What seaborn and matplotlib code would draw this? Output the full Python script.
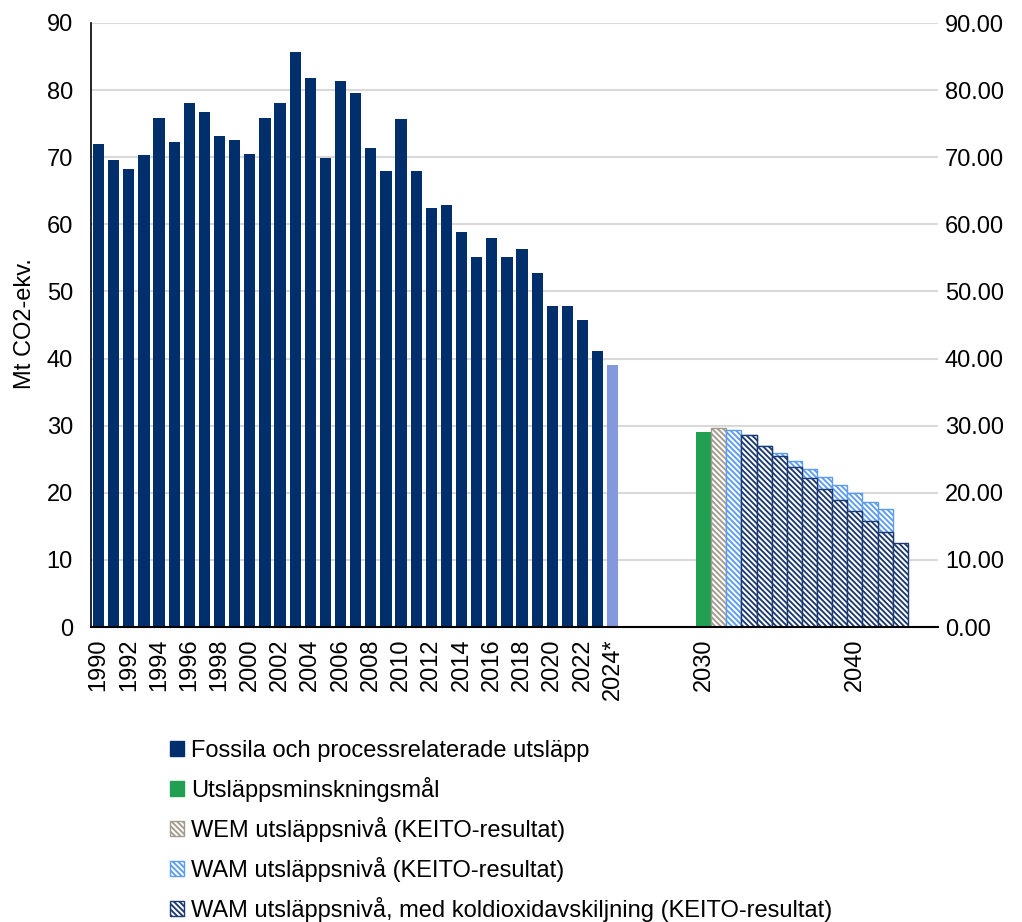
import matplotlib
matplotlib.use("Agg")
import matplotlib.pyplot as plt
import seaborn as sns
import pandas as pd
from matplotlib.patches import Patch
from matplotlib.ticker import FormatStrFormatter

# Category axis: historic years, the preliminary 2024 value and the projection horizon
years = [str(y) for y in range(1990, 2024)] + ["2024*"] + [str(y) for y in range(2025, 2046)]

hist_years = [str(y) for y in range(1990, 2024)]
hist_values = [71.9, 69.6, 68.2, 70.4, 75.9, 72.3, 78.1, 76.8, 73.1, 72.5,
               70.5, 75.9, 78.1, 85.7, 81.8, 69.9, 81.3, 79.6, 71.4, 67.9,
               75.7, 68.0, 62.4, 62.9, 58.8, 55.2, 58.0, 55.2, 56.3, 52.8,
               47.9, 47.9, 45.8, 41.2]
prelim_years = ["2024*"]
prelim_values = [39.0]

target_years = ["2030"]
target_values = [29.0]

wem_years = ["2031"]
wem_values = [29.7]

wam_years = [str(y) for y in range(2032, 2043)]
wam_values = [29.3, 28.6, 27.0, 25.9, 24.7, 23.5, 22.3, 21.1, 19.9, 18.7, 17.6]

ccs_years = [str(y) for y in range(2033, 2044)]
ccs_values = [28.6, 27.0, 25.5, 23.9, 22.2, 20.5, 18.9, 17.3, 15.8, 14.1, 12.5]

tick_labels = [str(y) for y in range(1990, 2024, 2)] + ["2024*", "2030", "2040"]

series_labels = [
    "Fossila och processrelaterade utsläpp",
    "Utsläppsminskningsmål",
    "WEM utsläppsnivå (KEITO-resultat)",
    "WAM utsläppsnivå (KEITO-resultat)",
    "WAM utsläppsnivå, med koldioxidavskiljning (KEITO-resultat)",
]

NAVY = "#002F6B"
LIGHT = "#8399DB"
GREEN = "#22A052"
TAN = "#A39A8E"
SKY = "#5A9CF2"
HATCH_NAVY = "#1C3A70"
GRID = "#D9D9D9"
HATCH = "\\\\\\\\\\\\"
FS = 17

sns.set_theme(style="white")
plt.rcParams["font.family"] = ["Liberation Sans", "DejaVu Sans"]
plt.rcParams["text.color"] = "black"
plt.rcParams["hatch.linewidth"] = 1.35

fig = plt.figure(figsize=(10.22, 9.22), dpi=100)
ax = fig.add_axes([91 / 1022, 1 - 627 / 922, 847 / 1022, 604 / 922])


def bars(cats, vals, color, width, hatch=None):
    n0 = len(ax.patches)
    sns.barplot(x=cats, y=vals, order=years, color=color, width=width,
                saturation=1, errorbar=None, ax=ax, zorder=3)
    new = ax.patches[n0:]
    for p in new:
        if hatch:
            p.set_facecolor("white")
            p.set_edgecolor(color)
            p.set_hatch(hatch)
            p.set_linewidth(1.0)
        else:
            p.set_linewidth(0)
    return new


bars(hist_years, hist_values, NAVY, 0.74)
bars(prelim_years, prelim_values, LIGHT, 0.74)
bars(target_years, target_values, GREEN, 1.0)
bars(wem_years, wem_values, TAN, 1.0, hatch=HATCH)
bars(wam_years, wam_values, SKY, 1.0, hatch=HATCH)
bars(ccs_years, ccs_values, HATCH_NAVY, 1.0, hatch=HATCH)

ax.set_xlim(-0.5, len(years) - 0.5)
ax.set_ylim(0, 90)
ax.set_yticks(range(0, 91, 10))
ax.yaxis.grid(True, color=GRID, linewidth=1.5, zorder=0)
ax.set_axisbelow(True)
ax.set_xticks([years.index(t) for t in tick_labels])
ax.set_xticklabels(tick_labels, rotation=90, fontsize=FS, color="black")
ax.tick_params(axis="x", length=0, pad=8)
ax.tick_params(axis="y", length=0, pad=13, labelsize=FS, labelcolor="black")
ax.set_xlabel("")
ax.set_ylabel("Mt CO2-ekv.", fontsize=FS, color="black")
ax.yaxis.set_label_coords(-0.065, 0.503)

for side in ("top", "right"):
    ax.spines[side].set_visible(False)
ax.spines["left"].set_color("black")
ax.spines["left"].set_linewidth(1.2)
ax.spines["bottom"].set_color("black")
ax.spines["bottom"].set_linewidth(1.5)
ax.spines["bottom"].set_zorder(5)

ax2 = ax.twinx()
ax2.set_ylim(0, 90)
ax2.set_yticks(range(0, 91, 10))
ax2.yaxis.set_major_formatter(FormatStrFormatter("%.2f"))
ax2.tick_params(axis="y", length=0, pad=5, labelsize=FS, labelcolor="black")
for side in ("top", "right", "left", "bottom"):
    ax2.spines[side].set_visible(False)
ax2.grid(False)

handles = [
    Patch(facecolor=NAVY, edgecolor=NAVY),
    Patch(facecolor=GREEN, edgecolor=GREEN),
    Patch(facecolor="white", edgecolor=TAN, hatch=HATCH),
    Patch(facecolor="white", edgecolor=SKY, hatch=HATCH),
    Patch(facecolor="white", edgecolor=HATCH_NAVY, hatch=HATCH),
]
fig.legend(handles, series_labels, loc="upper left",
           bbox_to_anchor=(170 / 1022, 1 - 740 / 922), frameon=False,
           fontsize=FS, handlelength=0.6, handleheight=0.6,
           handletextpad=0.3, labelspacing=0.63, borderpad=0,
           borderaxespad=0, labelcolor="black")

fig.savefig("out.png", dpi=100, facecolor="white")
